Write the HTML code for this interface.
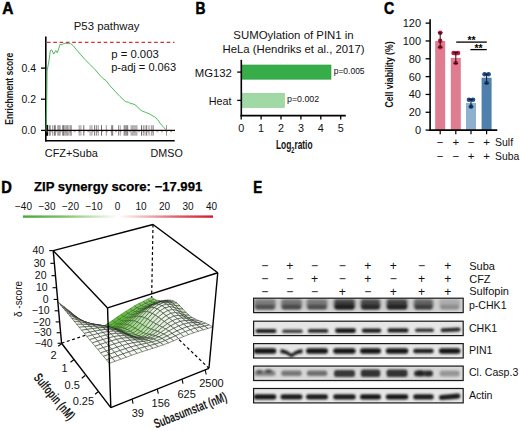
<!DOCTYPE html>
<html><head><meta charset="utf-8"><style>
html,body{margin:0;padding:0;background:#fff;}
svg{display:block;font-family:"Liberation Sans", sans-serif;}
</style></head><body>
<svg width="520" height="431" viewBox="0 0 520 431" font-family='"Liberation Sans", sans-serif'>
<rect width="520" height="431" fill="#fff"/>
<text x="2.3" y="13.5" font-size="15.8" font-weight="bold" text-anchor="start" fill="#000" textLength="11.2" lengthAdjust="spacingAndGlyphs" stroke="#000" stroke-width="0.5">A</text>
<text x="73.8" y="30.2" font-size="11.2" text-anchor="start" fill="#111" textLength="65.6" lengthAdjust="spacingAndGlyphs">P53 pathway</text>
<line x1="45.80" y1="36.50" x2="45.80" y2="141.40" stroke="#000" stroke-width="1.6"/>
<line x1="45.00" y1="140.70" x2="174.70" y2="140.70" stroke="#000" stroke-width="1.6"/>
<line x1="41.00" y1="68.10" x2="45.80" y2="68.10" stroke="#000" stroke-width="1.3"/>
<text x="36.0" y="71.69999999999999" font-size="10.6" text-anchor="end" fill="#111" textLength="14.5" lengthAdjust="spacingAndGlyphs">0.4</text>
<line x1="41.00" y1="99.20" x2="45.80" y2="99.20" stroke="#000" stroke-width="1.3"/>
<text x="36.0" y="102.8" font-size="10.6" text-anchor="end" fill="#111" textLength="14.5" lengthAdjust="spacingAndGlyphs">0.2</text>
<line x1="41.00" y1="130.40" x2="45.80" y2="130.40" stroke="#000" stroke-width="1.3"/>
<text x="36.0" y="134.0" font-size="10.6" text-anchor="end" fill="#111" textLength="14.5" lengthAdjust="spacingAndGlyphs">0.0</text>
<text transform="translate(13.0,88.7) rotate(-90)" font-size="11.6" font-weight="bold" text-anchor="middle" fill="#1a1a1a" textLength="72" lengthAdjust="spacingAndGlyphs">Enrichment score</text>
<line x1="47.00" y1="42.30" x2="174.40" y2="42.30" stroke="#d2323f" stroke-width="1.2" stroke-dasharray="3.6 2.7"/>
<line x1="46.00" y1="125.20" x2="46.00" y2="135.70" stroke="#222" stroke-width="0.9"/>
<line x1="46.80" y1="125.20" x2="46.80" y2="135.70" stroke="#222" stroke-width="0.9"/>
<line x1="47.50" y1="125.20" x2="47.50" y2="135.70" stroke="#222" stroke-width="0.9"/>
<line x1="49.20" y1="125.20" x2="49.20" y2="135.70" stroke="#5a5a5a" stroke-width="0.9"/>
<line x1="50.30" y1="125.20" x2="50.30" y2="135.70" stroke="#8a8a8a" stroke-width="0.9"/>
<line x1="52.70" y1="125.20" x2="52.70" y2="135.70" stroke="#8a8a8a" stroke-width="0.9"/>
<line x1="54.40" y1="125.20" x2="54.40" y2="135.70" stroke="#5a5a5a" stroke-width="0.9"/>
<line x1="55.50" y1="125.20" x2="55.50" y2="135.70" stroke="#8a8a8a" stroke-width="0.9"/>
<line x1="57.80" y1="125.20" x2="57.80" y2="135.70" stroke="#8a8a8a" stroke-width="0.9"/>
<line x1="59.00" y1="125.20" x2="59.00" y2="135.70" stroke="#5a5a5a" stroke-width="0.9"/>
<line x1="60.10" y1="125.20" x2="60.10" y2="135.70" stroke="#8a8a8a" stroke-width="0.9"/>
<line x1="62.50" y1="125.20" x2="62.50" y2="135.70" stroke="#8a8a8a" stroke-width="0.9"/>
<line x1="63.60" y1="125.20" x2="63.60" y2="135.70" stroke="#5a5a5a" stroke-width="0.9"/>
<line x1="64.80" y1="125.20" x2="64.80" y2="135.70" stroke="#8a8a8a" stroke-width="0.9"/>
<line x1="65.90" y1="125.20" x2="65.90" y2="135.70" stroke="#8a8a8a" stroke-width="0.9"/>
<line x1="67.10" y1="125.20" x2="67.10" y2="135.70" stroke="#5a5a5a" stroke-width="0.9"/>
<line x1="68.20" y1="125.20" x2="68.20" y2="135.70" stroke="#8a8a8a" stroke-width="0.9"/>
<line x1="70.00" y1="125.20" x2="70.00" y2="135.70" stroke="#8a8a8a" stroke-width="0.9"/>
<line x1="71.10" y1="125.20" x2="71.10" y2="135.70" stroke="#5a5a5a" stroke-width="0.9"/>
<line x1="79.20" y1="125.20" x2="79.20" y2="135.70" stroke="#8a8a8a" stroke-width="0.9"/>
<line x1="80.90" y1="125.20" x2="80.90" y2="135.70" stroke="#8a8a8a" stroke-width="0.9"/>
<line x1="83.80" y1="125.20" x2="83.80" y2="135.70" stroke="#5a5a5a" stroke-width="0.9"/>
<line x1="90.10" y1="125.20" x2="90.10" y2="135.70" stroke="#8a8a8a" stroke-width="0.9"/>
<line x1="91.90" y1="125.20" x2="91.90" y2="135.70" stroke="#8a8a8a" stroke-width="0.9"/>
<line x1="94.70" y1="125.20" x2="94.70" y2="135.70" stroke="#5a5a5a" stroke-width="0.9"/>
<line x1="96.50" y1="125.20" x2="96.50" y2="135.70" stroke="#8a8a8a" stroke-width="0.9"/>
<line x1="98.20" y1="125.20" x2="98.20" y2="135.70" stroke="#8a8a8a" stroke-width="0.9"/>
<line x1="101.50" y1="125.20" x2="101.50" y2="135.70" stroke="#5a5a5a" stroke-width="0.9"/>
<line x1="106.30" y1="125.20" x2="106.30" y2="135.70" stroke="#8a8a8a" stroke-width="0.9"/>
<line x1="111.50" y1="125.20" x2="111.50" y2="135.70" stroke="#8a8a8a" stroke-width="0.9"/>
<line x1="112.70" y1="125.20" x2="112.70" y2="135.70" stroke="#5a5a5a" stroke-width="0.9"/>
<line x1="118.50" y1="125.20" x2="118.50" y2="135.70" stroke="#8a8a8a" stroke-width="0.9"/>
<line x1="120.20" y1="125.20" x2="120.20" y2="135.70" stroke="#8a8a8a" stroke-width="0.9"/>
<line x1="124.20" y1="125.20" x2="124.20" y2="135.70" stroke="#5a5a5a" stroke-width="0.9"/>
<line x1="125.40" y1="125.20" x2="125.40" y2="135.70" stroke="#8a8a8a" stroke-width="0.9"/>
<line x1="126.50" y1="125.20" x2="126.50" y2="135.70" stroke="#8a8a8a" stroke-width="0.9"/>
<line x1="127.70" y1="125.20" x2="127.70" y2="135.70" stroke="#5a5a5a" stroke-width="0.9"/>
<line x1="131.10" y1="125.20" x2="131.10" y2="135.70" stroke="#8a8a8a" stroke-width="0.9"/>
<line x1="132.30" y1="125.20" x2="132.30" y2="135.70" stroke="#8a8a8a" stroke-width="0.9"/>
<line x1="134.00" y1="125.20" x2="134.00" y2="135.70" stroke="#5a5a5a" stroke-width="0.9"/>
<line x1="135.80" y1="125.20" x2="135.80" y2="135.70" stroke="#8a8a8a" stroke-width="0.9"/>
<line x1="136.90" y1="125.20" x2="136.90" y2="135.70" stroke="#8a8a8a" stroke-width="0.9"/>
<line x1="141.50" y1="125.20" x2="141.50" y2="135.70" stroke="#5a5a5a" stroke-width="0.9"/>
<line x1="143.30" y1="125.20" x2="143.30" y2="135.70" stroke="#8a8a8a" stroke-width="0.9"/>
<line x1="145.00" y1="125.20" x2="145.00" y2="135.70" stroke="#8a8a8a" stroke-width="0.9"/>
<line x1="146.70" y1="125.20" x2="146.70" y2="135.70" stroke="#5a5a5a" stroke-width="0.9"/>
<line x1="149.00" y1="125.20" x2="149.00" y2="135.70" stroke="#8a8a8a" stroke-width="0.9"/>
<line x1="151.30" y1="125.20" x2="151.30" y2="135.70" stroke="#8a8a8a" stroke-width="0.9"/>
<line x1="153.10" y1="125.20" x2="153.10" y2="135.70" stroke="#5a5a5a" stroke-width="0.9"/>
<line x1="166.50" y1="125.20" x2="166.50" y2="135.70" stroke="#8a8a8a" stroke-width="0.9"/>
<rect x="45.30" y="124.90" width="2.50" height="10.70" fill="#000"/>
<line x1="46.00" y1="130.40" x2="175.00" y2="130.40" stroke="#000" stroke-width="1.1"/>
<line x1="46.00" y1="131.70" x2="175.00" y2="131.70" stroke="#c8485a" stroke-width="1.0" stroke-dasharray="2 2.6" opacity="0.7"/>
<polyline fill="none" stroke="#45b556" stroke-width="0.95" points="46,130.5 46.4,112 46.8,95.9 47.1,70.8 48.0,66 48.9,61 49.6,56 50.3,50.6 51.7,49.9 53.7,54.1 55.8,50.6 57.2,52.7 58.6,49.2 60,44.4 62.1,44.4 63.5,43.8 65.6,43.2 68.4,43.7 70.5,43.6 71.9,44.6 73.2,45.7 76.5,49.8 80.2,54.1 85,59.5 90,64.5 95,69.5 100,75.4 103,78.5 106.2,80.8 110,85.8 115.4,91.5 120,96.5 125.4,101.5 128.5,102.3 131,103.6 134,104.2 136.9,106.2 139.5,109.2 142.3,111.2 145.5,112.3 149.2,113.8 152,115.5 154.6,116.9 157.5,119.5 160,123.1 163,126.5 165.4,129.2 166.5,130.4"/>
<text x="111.2" y="57.6" font-size="11" text-anchor="start" fill="#111" textLength="47.6" lengthAdjust="spacingAndGlyphs">p = 0.003</text>
<text x="111.2" y="70.9" font-size="11" text-anchor="start" fill="#111" textLength="64.9" lengthAdjust="spacingAndGlyphs">p-adj = 0.063</text>
<text x="44.8" y="156.7" font-size="10.9" text-anchor="start" fill="#111" textLength="53.0" lengthAdjust="spacingAndGlyphs">CFZ+Suba</text>
<text x="150.6" y="156.6" font-size="10.8" text-anchor="start" fill="#111" textLength="32.2" lengthAdjust="spacingAndGlyphs">DMSO</text>
<text x="195.5" y="13.6" font-size="15.8" font-weight="bold" text-anchor="start" fill="#000" textLength="10.0" lengthAdjust="spacingAndGlyphs" stroke="#000" stroke-width="0.5">B</text>
<text x="293.5" y="39.4" font-size="11.4" text-anchor="middle" fill="#111" textLength="120.4" lengthAdjust="spacingAndGlyphs">SUMOylation of PIN1 in</text>
<text x="293.5" y="52.8" font-size="11.4" text-anchor="middle" fill="#111" textLength="142" lengthAdjust="spacingAndGlyphs">HeLa (Hendriks et al., 2017)</text>
<rect x="241.30" y="65.00" width="89.70" height="14.20" fill="#37ad4a" stroke="#2c9a3f" stroke-width="0.6"/>
<rect x="241.30" y="93.30" width="43.10" height="14.20" fill="#a0d9a3" stroke="#8ccb90" stroke-width="0.6"/>
<line x1="241.30" y1="59.80" x2="241.30" y2="116.30" stroke="#000" stroke-width="1.6"/>
<line x1="240.50" y1="115.60" x2="345.80" y2="115.60" stroke="#000" stroke-width="1.6"/>
<line x1="237.20" y1="72.10" x2="241.30" y2="72.10" stroke="#000" stroke-width="1.3"/>
<line x1="237.20" y1="100.40" x2="241.30" y2="100.40" stroke="#000" stroke-width="1.3"/>
<line x1="241.20" y1="115.60" x2="241.20" y2="119.60" stroke="#000" stroke-width="1.3"/>
<text x="241.2" y="131.8" font-size="10.8" text-anchor="middle" fill="#111">0</text>
<line x1="261.10" y1="115.60" x2="261.10" y2="119.60" stroke="#000" stroke-width="1.3"/>
<text x="261.09999999999997" y="131.8" font-size="10.8" text-anchor="middle" fill="#111">1</text>
<line x1="281.00" y1="115.60" x2="281.00" y2="119.60" stroke="#000" stroke-width="1.3"/>
<text x="281.0" y="131.8" font-size="10.8" text-anchor="middle" fill="#111">2</text>
<line x1="300.90" y1="115.60" x2="300.90" y2="119.60" stroke="#000" stroke-width="1.3"/>
<text x="300.9" y="131.8" font-size="10.8" text-anchor="middle" fill="#111">3</text>
<line x1="320.80" y1="115.60" x2="320.80" y2="119.60" stroke="#000" stroke-width="1.3"/>
<text x="320.79999999999995" y="131.8" font-size="10.8" text-anchor="middle" fill="#111">4</text>
<line x1="340.70" y1="115.60" x2="340.70" y2="119.60" stroke="#000" stroke-width="1.3"/>
<text x="340.7" y="131.8" font-size="10.8" text-anchor="middle" fill="#111">5</text>
<text x="231.9" y="76.5" font-size="11.2" text-anchor="end" fill="#111" textLength="37.1" lengthAdjust="spacingAndGlyphs">MG132</text>
<text x="231.6" y="104.7" font-size="11.2" text-anchor="end" fill="#111" textLength="22.8" lengthAdjust="spacingAndGlyphs">Heat</text>
<text x="333.7" y="74.4" font-size="8.8" text-anchor="start" fill="#111" textLength="30.9" lengthAdjust="spacingAndGlyphs">p=0.005</text>
<text x="287.0" y="101.8" font-size="8.8" text-anchor="start" fill="#111" textLength="32.2" lengthAdjust="spacingAndGlyphs">p=0.002</text>
<text x="276" y="149.4" font-size="13.5" fill="#111" font-weight="bold" transform="translate(276,0) scale(0.62,1) translate(-276,0)">Log<tspan font-size="9" dy="3.5">2</tspan><tspan dy="-3.5">ratio</tspan></text>
<text x="384.0" y="13.7" font-size="15.8" font-weight="bold" text-anchor="start" fill="#000" textLength="10.2" lengthAdjust="spacingAndGlyphs" stroke="#000" stroke-width="0.5">C</text>
<rect x="435.20" y="40.95" width="10.00" height="89.15" fill="#e07c90"/>
<rect x="450.80" y="57.89" width="10.00" height="72.21" fill="#e07c90"/>
<rect x="466.00" y="102.91" width="10.00" height="27.19" fill="#8fb0cf"/>
<rect x="481.60" y="77.68" width="10.00" height="52.42" fill="#4f80ad"/>
<line x1="430.10" y1="19.20" x2="430.10" y2="130.80" stroke="#000" stroke-width="1.6"/>
<line x1="429.30" y1="130.10" x2="497.30" y2="130.10" stroke="#000" stroke-width="1.6"/>
<line x1="425.60" y1="130.10" x2="430.10" y2="130.10" stroke="#000" stroke-width="1.3"/>
<text x="421.0" y="134.0" font-size="11" text-anchor="end" fill="#111">0</text>
<line x1="425.60" y1="112.27" x2="430.10" y2="112.27" stroke="#000" stroke-width="1.3"/>
<text x="421.0" y="116.17" font-size="11" text-anchor="end" fill="#111">20</text>
<line x1="425.60" y1="94.44" x2="430.10" y2="94.44" stroke="#000" stroke-width="1.3"/>
<text x="421.0" y="98.34" font-size="11" text-anchor="end" fill="#111">40</text>
<line x1="425.60" y1="76.61" x2="430.10" y2="76.61" stroke="#000" stroke-width="1.3"/>
<text x="421.0" y="80.51" font-size="11" text-anchor="end" fill="#111">60</text>
<line x1="425.60" y1="58.78" x2="430.10" y2="58.78" stroke="#000" stroke-width="1.3"/>
<text x="421.0" y="62.68" font-size="11" text-anchor="end" fill="#111">80</text>
<line x1="425.60" y1="40.95" x2="430.10" y2="40.95" stroke="#000" stroke-width="1.3"/>
<text x="421.0" y="44.85" font-size="11" text-anchor="end" fill="#111">100</text>
<line x1="425.60" y1="23.12" x2="430.10" y2="23.12" stroke="#000" stroke-width="1.3"/>
<text x="421.0" y="27.020000000000003" font-size="11" text-anchor="end" fill="#111">120</text>
<line x1="440.20" y1="130.10" x2="440.20" y2="134.20" stroke="#000" stroke-width="1.2"/>
<line x1="455.80" y1="130.10" x2="455.80" y2="134.20" stroke="#000" stroke-width="1.2"/>
<line x1="471.00" y1="130.10" x2="471.00" y2="134.20" stroke="#000" stroke-width="1.2"/>
<line x1="486.60" y1="130.10" x2="486.60" y2="134.20" stroke="#000" stroke-width="1.2"/>
<circle cx="440.20" cy="32.80" r="2.3" fill="#c0183e"/>
<circle cx="440.20" cy="40.90" r="2.3" fill="#c0183e"/>
<circle cx="440.20" cy="47.20" r="2.3" fill="#c0183e"/>
<line x1="440.20" y1="32.80" x2="440.20" y2="47.20" stroke="#2a0c14" stroke-width="1.0"/>
<line x1="437.90" y1="32.80" x2="442.50" y2="32.80" stroke="#2a0c14" stroke-width="1.0"/>
<line x1="437.90" y1="47.20" x2="442.50" y2="47.20" stroke="#2a0c14" stroke-width="1.0"/>
<circle cx="453.60" cy="53.00" r="2.3" fill="#c0183e"/>
<circle cx="455.80" cy="53.30" r="2.3" fill="#c0183e"/>
<circle cx="458.00" cy="53.00" r="2.3" fill="#c0183e"/>
<circle cx="455.80" cy="63.00" r="2.3" fill="#c0183e"/>
<line x1="455.80" y1="52.60" x2="455.80" y2="63.40" stroke="#2a0c14" stroke-width="1.0"/>
<line x1="453.50" y1="52.60" x2="458.10" y2="52.60" stroke="#2a0c14" stroke-width="1.0"/>
<line x1="453.50" y1="63.40" x2="458.10" y2="63.40" stroke="#2a0c14" stroke-width="1.0"/>
<circle cx="469.00" cy="99.70" r="2.3" fill="#1f4f86"/>
<circle cx="473.00" cy="99.70" r="2.3" fill="#1f4f86"/>
<circle cx="471.00" cy="106.60" r="2.3" fill="#1f4f86"/>
<line x1="471.00" y1="99.30" x2="471.00" y2="107.00" stroke="#0c1a2e" stroke-width="1.0"/>
<line x1="468.70" y1="99.30" x2="473.30" y2="99.30" stroke="#0c1a2e" stroke-width="1.0"/>
<line x1="468.70" y1="107.00" x2="473.30" y2="107.00" stroke="#0c1a2e" stroke-width="1.0"/>
<circle cx="484.60" cy="74.30" r="2.3" fill="#1f4f86"/>
<circle cx="488.60" cy="74.30" r="2.3" fill="#1f4f86"/>
<circle cx="486.60" cy="83.00" r="2.3" fill="#1f4f86"/>
<line x1="486.60" y1="74.00" x2="486.60" y2="83.30" stroke="#0c1a2e" stroke-width="1.0"/>
<line x1="484.30" y1="74.00" x2="488.90" y2="74.00" stroke="#0c1a2e" stroke-width="1.0"/>
<line x1="484.30" y1="83.30" x2="488.90" y2="83.30" stroke="#0c1a2e" stroke-width="1.0"/>
<line x1="456.20" y1="42.10" x2="486.80" y2="42.10" stroke="#000" stroke-width="1.3"/>
<line x1="470.40" y1="49.60" x2="486.80" y2="49.60" stroke="#000" stroke-width="1.3"/>
<text x="471.6" y="43.9" font-size="10.5" font-weight="bold" text-anchor="middle" fill="#000">**</text>
<text x="478.6" y="51.5" font-size="10.5" font-weight="bold" text-anchor="middle" fill="#000">**</text>
<text x="440.2" y="146.3" font-size="11.5" text-anchor="middle" fill="#111">−</text>
<text x="455.8" y="146.3" font-size="11.5" text-anchor="middle" fill="#111">+</text>
<text x="471.0" y="146.3" font-size="11.5" text-anchor="middle" fill="#111">−</text>
<text x="486.6" y="146.3" font-size="11.5" text-anchor="middle" fill="#111">+</text>
<text x="440.2" y="159.6" font-size="11.5" text-anchor="middle" fill="#111">−</text>
<text x="455.8" y="159.6" font-size="11.5" text-anchor="middle" fill="#111">−</text>
<text x="471.0" y="159.6" font-size="11.5" text-anchor="middle" fill="#111">+</text>
<text x="486.6" y="159.6" font-size="11.5" text-anchor="middle" fill="#111">+</text>
<text x="495.0" y="145.6" font-size="11" text-anchor="start" fill="#111" textLength="18.1" lengthAdjust="spacingAndGlyphs">Sulf</text>
<text x="495.0" y="159.5" font-size="11" text-anchor="start" fill="#111" textLength="24.2" lengthAdjust="spacingAndGlyphs">Suba</text>
<text transform="translate(393.0,74.5) rotate(-90)" font-size="11.6" font-weight="bold" text-anchor="middle" fill="#111" textLength="66" lengthAdjust="spacingAndGlyphs">Cell viability (%)</text>
<text x="1.2" y="192.6" font-size="15.8" font-weight="bold" text-anchor="start" fill="#000" textLength="10.6" lengthAdjust="spacingAndGlyphs" stroke="#000" stroke-width="0.5">D</text>
<text x="34.0" y="190.7" font-size="12.3" font-weight="bold" text-anchor="start" fill="#000" textLength="168.2" lengthAdjust="spacingAndGlyphs" stroke="#000" stroke-width="0.25">ZIP synergy score: −17.991</text>
<text x="23.5" y="210.2" font-size="10" text-anchor="middle" fill="#111">−40</text>
<text x="47.0" y="210.2" font-size="10" text-anchor="middle" fill="#111">−30</text>
<text x="70.5" y="210.2" font-size="10" text-anchor="middle" fill="#111">−20</text>
<text x="94.0" y="210.2" font-size="10" text-anchor="middle" fill="#111">−10</text>
<text x="117.5" y="210.2" font-size="10" text-anchor="middle" fill="#111">0</text>
<text x="141.0" y="210.2" font-size="10" text-anchor="middle" fill="#111">10</text>
<text x="164.5" y="210.2" font-size="10" text-anchor="middle" fill="#111">20</text>
<text x="188.0" y="210.2" font-size="10" text-anchor="middle" fill="#111">30</text>
<text x="211.5" y="210.2" font-size="10" text-anchor="middle" fill="#111">40</text>
<defs><linearGradient id="ck" x1="0" x2="1" y1="0" y2="0"><stop offset="0" stop-color="#4aa83a"/><stop offset="0.2" stop-color="#7cc064"/><stop offset="0.5" stop-color="#ffffff"/><stop offset="0.8" stop-color="#e06670"/><stop offset="1" stop-color="#d41a2a"/></linearGradient></defs>
<rect x="23.00" y="215.40" width="190.00" height="2.40" fill="url(#ck)"/>
<text x="253.3" y="192.6" font-size="15.8" font-weight="bold" text-anchor="start" fill="#000" textLength="9.0" lengthAdjust="spacingAndGlyphs" stroke="#000" stroke-width="0.5">E</text>
<text x="264.8" y="270.20000000000005" font-size="12.2" text-anchor="middle" fill="#111">−</text>
<text x="289.8" y="270.20000000000005" font-size="12.2" text-anchor="middle" fill="#111">+</text>
<text x="314.6" y="270.20000000000005" font-size="12.2" text-anchor="middle" fill="#111">−</text>
<text x="342.4" y="270.20000000000005" font-size="12.2" text-anchor="middle" fill="#111">−</text>
<text x="367.8" y="270.20000000000005" font-size="12.2" text-anchor="middle" fill="#111">+</text>
<text x="393.2" y="270.20000000000005" font-size="12.2" text-anchor="middle" fill="#111">+</text>
<text x="421.5" y="270.20000000000005" font-size="12.2" text-anchor="middle" fill="#111">−</text>
<text x="447.7" y="270.20000000000005" font-size="12.2" text-anchor="middle" fill="#111">+</text>
<text x="469.2" y="269.7" font-size="11" text-anchor="start" fill="#111">Suba</text>
<text x="264.8" y="282.90000000000003" font-size="12.2" text-anchor="middle" fill="#111">−</text>
<text x="289.8" y="282.90000000000003" font-size="12.2" text-anchor="middle" fill="#111">−</text>
<text x="314.6" y="282.90000000000003" font-size="12.2" text-anchor="middle" fill="#111">+</text>
<text x="342.4" y="282.90000000000003" font-size="12.2" text-anchor="middle" fill="#111">−</text>
<text x="367.8" y="282.90000000000003" font-size="12.2" text-anchor="middle" fill="#111">+</text>
<text x="393.2" y="282.90000000000003" font-size="12.2" text-anchor="middle" fill="#111">−</text>
<text x="421.5" y="282.90000000000003" font-size="12.2" text-anchor="middle" fill="#111">+</text>
<text x="447.7" y="282.90000000000003" font-size="12.2" text-anchor="middle" fill="#111">+</text>
<text x="469.2" y="282.7" font-size="11" text-anchor="start" fill="#111">CFZ</text>
<text x="264.8" y="295.70000000000005" font-size="12.2" text-anchor="middle" fill="#111">−</text>
<text x="289.8" y="295.70000000000005" font-size="12.2" text-anchor="middle" fill="#111">−</text>
<text x="314.6" y="295.70000000000005" font-size="12.2" text-anchor="middle" fill="#111">−</text>
<text x="342.4" y="295.70000000000005" font-size="12.2" text-anchor="middle" fill="#111">+</text>
<text x="367.8" y="295.70000000000005" font-size="12.2" text-anchor="middle" fill="#111">−</text>
<text x="393.2" y="295.70000000000005" font-size="12.2" text-anchor="middle" fill="#111">+</text>
<text x="421.5" y="295.70000000000005" font-size="12.2" text-anchor="middle" fill="#111">+</text>
<text x="447.7" y="295.70000000000005" font-size="12.2" text-anchor="middle" fill="#111">+</text>
<text x="469.2" y="294.9" font-size="11" text-anchor="start" fill="#111">Sulfopin</text>
<rect x="253.60" y="298.20" width="209.60" height="14.40" fill="#e6e6e6"/>
<rect x="253.60" y="321.20" width="209.60" height="14.40" fill="#e6e6e6"/>
<rect x="253.60" y="343.60" width="209.60" height="14.40" fill="#e6e6e6"/>
<rect x="253.60" y="366.10" width="209.60" height="14.40" fill="#e6e6e6"/>
<rect x="253.60" y="388.50" width="209.60" height="14.40" fill="#e6e6e6"/>
<text x="468.9" y="309.2" font-size="10.6" text-anchor="start" fill="#111">p-CHK1</text>
<text x="468.9" y="332.4" font-size="10.6" text-anchor="start" fill="#111">CHK1</text>
<text x="468.9" y="353.9" font-size="10.6" text-anchor="start" fill="#111">PIN1</text>
<text x="468.9" y="376.2" font-size="10.6" text-anchor="start" fill="#111">Cl. Casp.3</text>
<text x="468.9" y="399.29999999999995" font-size="10.6" text-anchor="start" fill="#111">Actin</text>
<line x1="153.01" y1="224.50" x2="151.36" y2="313.13" stroke="#000" stroke-width="1.2" stroke-dasharray="3 2.5"/>
<line x1="61.57" y1="343.26" x2="151.36" y2="313.13" stroke="#000" stroke-width="1.2" stroke-dasharray="3 2.5"/>
<line x1="151.36" y1="313.13" x2="208.94" y2="368.29" stroke="#000" stroke-width="1.2" stroke-dasharray="3 2.5"/>
<g stroke="#1c1c1c" stroke-width="0.48" stroke-linejoin="round"><polygon points="150.0,301.3 154.3,299.1 151.7,297.2 147.4,299.3" fill="#86ca68" stroke="#295319"/><polygon points="145.6,303.4 150.0,301.3 147.4,299.3 143.1,301.5" fill="#83c863" stroke="#295419"/><polygon points="141.3,305.6 145.6,303.4 143.1,301.5 138.7,303.6" fill="#7fc75f" stroke="#295619"/><polygon points="152.6,302.4 156.9,300.3 154.3,299.1 150.0,301.3" fill="#8bcc6d" stroke="#285119"/><polygon points="136.9,307.9 141.3,305.6 138.7,303.6 134.4,305.9" fill="#7cc55a" stroke="#2a5819"/><polygon points="148.3,304.5 152.6,302.4 150.0,301.3 145.6,303.4" fill="#87ca69" stroke="#285219"/><polygon points="132.5,310.7 136.9,307.9 134.4,305.9 130.0,308.7" fill="#76c354" stroke="#2b5a19"/><polygon points="128.1,313.5 132.5,310.7 130.0,308.7 125.6,311.5" fill="#70c04c" stroke="#2b5d19"/><polygon points="143.9,306.6 148.3,304.5 145.6,303.4 141.3,305.6" fill="#84c965" stroke="#295419"/><polygon points="123.7,316.4 128.1,313.5 125.6,311.5 121.2,314.3" fill="#6abd43" stroke="#2c6019"/><polygon points="155.3,302.7 159.7,300.7 156.9,300.3 152.6,302.4" fill="#93cf77" stroke="#274d19"/><polygon points="139.5,308.9 143.9,306.6 141.3,305.6 136.9,307.9" fill="#80c760" stroke="#295619"/><polygon points="119.2,319.5 123.7,316.4 121.2,314.3 116.8,317.3" fill="#63ba3b" stroke="#2d6419"/><polygon points="135.1,311.6 139.5,308.9 136.9,307.9 132.5,310.7" fill="#7bc55a" stroke="#2a5819"/><polygon points="114.8,322.6 119.2,319.5 116.8,317.3 112.4,320.4" fill="#62ba3a" stroke="#2d6419"/><polygon points="150.9,304.7 155.3,302.7 152.6,302.4 148.3,304.5" fill="#90ce73" stroke="#274e19"/><polygon points="110.3,325.6 114.8,322.6 112.4,320.4 107.9,323.4" fill="#62ba3a" stroke="#2d6419"/><polygon points="130.6,314.5 135.1,311.6 132.5,310.7 128.1,313.5" fill="#75c252" stroke="#2b5b19"/><polygon points="146.5,306.7 150.9,304.7 148.3,304.5 143.9,306.6" fill="#8dcd70" stroke="#285019"/><polygon points="126.2,317.5 130.6,314.5 128.1,313.5 123.7,316.4" fill="#6ebf49" stroke="#2c5e19"/><polygon points="105.8,328.2 110.3,325.6 107.9,323.4 103.5,326.0" fill="#62ba3a" stroke="#2d6419"/><polygon points="121.7,320.6 126.2,317.5 123.7,316.4 119.2,319.5" fill="#67bc40" stroke="#2c6219"/><polygon points="142.1,309.0 146.5,306.7 143.9,306.6 139.5,308.9" fill="#89cb6b" stroke="#285119"/><polygon points="158.1,302.4 162.4,300.6 159.7,300.7 155.3,302.7" fill="#9dd485" stroke="#264819"/><polygon points="117.2,323.8 121.7,320.6 119.2,319.5 114.8,322.6" fill="#62ba3a" stroke="#2d6419"/><polygon points="101.2,328.4 105.8,328.2 103.5,326.0 98.9,326.3" fill="#62ba3a" stroke="#2d6419"/><polygon points="137.6,311.7 142.1,309.0 139.5,308.9 135.1,311.6" fill="#84c965" stroke="#295419"/><polygon points="112.7,326.8 117.2,323.8 114.8,322.6 110.3,325.6" fill="#62ba3a" stroke="#2d6419"/><polygon points="153.7,304.2 158.1,302.4 155.3,302.7 150.9,304.7" fill="#9bd382" stroke="#264919"/><polygon points="133.2,314.7 137.6,311.7 135.1,311.6 130.6,314.5" fill="#7ec65d" stroke="#2a5719"/><polygon points="108.2,329.3 112.7,326.8 110.3,325.6 105.8,328.2" fill="#62ba3a" stroke="#2d6419"/><polygon points="128.7,317.7 133.2,314.7 130.6,314.5 126.2,317.5" fill="#77c355" stroke="#2a5a19"/><polygon points="149.2,306.2 153.7,304.2 150.9,304.7 146.5,306.7" fill="#99d27f" stroke="#264a19"/><polygon points="96.5,327.9 101.2,328.4 98.9,326.3 94.2,325.8" fill="#62ba3a" stroke="#2d6419"/><polygon points="124.2,321.0 128.7,317.7 126.2,317.5 121.7,320.6" fill="#70c04b" stroke="#2b5d19"/><polygon points="103.5,329.5 108.2,329.3 105.8,328.2 101.2,328.4" fill="#62ba3a" stroke="#2d6419"/><polygon points="144.8,308.4 149.2,306.2 146.5,306.7 142.1,309.0" fill="#96d17b" stroke="#274b19"/><polygon points="160.9,301.9 165.3,300.3 162.4,300.6 158.1,302.4" fill="#aada95" stroke="#244219"/><polygon points="119.6,324.2 124.2,321.0 121.7,320.6 117.2,323.8" fill="#68bd41" stroke="#2c6119"/><polygon points="115.1,327.2 119.6,324.2 117.2,323.8 112.7,326.8" fill="#62ba3a" stroke="#2d6419"/><polygon points="140.3,311.2 144.8,308.4 142.1,309.0 137.6,311.7" fill="#91cf75" stroke="#274e19"/><polygon points="156.5,303.4 160.9,301.9 158.1,302.4 153.7,304.2" fill="#a9d993" stroke="#244219"/><polygon points="110.5,329.6 115.1,327.2 112.7,326.8 108.2,329.3" fill="#62ba3a" stroke="#2d6419"/><polygon points="135.7,314.2 140.3,311.2 137.6,311.7 133.2,314.7" fill="#8bcc6d" stroke="#285119"/><polygon points="91.7,326.4 96.5,327.9 94.2,325.8 89.4,324.2" fill="#62ba3a" stroke="#2d6419"/><polygon points="98.8,329.0 103.5,329.5 101.2,328.4 96.5,327.9" fill="#62ba3a" stroke="#2d6419"/><polygon points="131.2,317.4 135.7,314.2 133.2,314.7 128.7,317.7" fill="#84c964" stroke="#295419"/><polygon points="152.0,305.1 156.5,303.4 153.7,304.2 149.2,306.2" fill="#a8d992" stroke="#254319"/><polygon points="126.7,320.9 131.2,317.4 128.7,317.7 124.2,321.0" fill="#7cc55a" stroke="#2a5819"/><polygon points="105.8,329.7 110.5,329.6 108.2,329.3 103.5,329.5" fill="#62ba3a" stroke="#2d6419"/><polygon points="122.1,324.2 126.7,320.9 124.2,321.0 119.6,324.2" fill="#73c250" stroke="#2b5c19"/><polygon points="163.8,301.3 168.2,300.1 165.3,300.3 160.9,301.9" fill="#b7e0a5" stroke="#233c1a"/><polygon points="147.5,307.2 152.0,305.1 149.2,306.2 144.8,308.4" fill="#a5d88f" stroke="#254419"/><polygon points="117.5,327.2 122.1,324.2 119.6,324.2 115.1,327.2" fill="#6cbe46" stroke="#2c5f19"/><polygon points="93.9,327.5 98.8,329.0 96.5,327.9 91.7,326.4" fill="#67bc40" stroke="#2c6219"/><polygon points="86.7,324.0 91.7,326.4 89.4,324.2 84.4,321.8" fill="#72c14e" stroke="#2b5c19"/><polygon points="142.9,310.1 147.5,307.2 144.8,308.4 140.3,311.2" fill="#a1d689" stroke="#254619"/><polygon points="112.9,329.4 117.5,327.2 115.1,327.2 110.5,329.6" fill="#67bc40" stroke="#2c6219"/><polygon points="159.3,302.3 163.8,301.3 160.9,301.9 156.5,303.4" fill="#b8e0a6" stroke="#233b1a"/><polygon points="101.1,329.2 105.8,329.7 103.5,329.5 98.8,329.0" fill="#64bb3d" stroke="#2d6319"/><polygon points="138.4,313.4 142.9,310.1 140.3,311.2 135.7,314.2" fill="#9ad380" stroke="#264a19"/><polygon points="133.8,316.9 138.4,313.4 135.7,314.2 131.2,317.4" fill="#92cf76" stroke="#274d19"/><polygon points="154.8,303.8 159.3,302.3 156.5,303.4 152.0,305.1" fill="#b8e0a6" stroke="#233b1a"/><polygon points="129.2,320.7 133.8,316.9 131.2,317.4 126.7,320.9" fill="#89cb6b" stroke="#285219"/><polygon points="108.2,329.5 112.9,329.4 110.5,329.6 105.8,329.7" fill="#69bd42" stroke="#2c6119"/><polygon points="124.6,324.3 129.2,320.7 126.7,320.9 122.1,324.2" fill="#80c75f" stroke="#295619"/><polygon points="166.7,301.0 171.1,300.3 168.2,300.1 163.8,301.3" fill="#c4e5b5" stroke="#21361a"/><polygon points="89.0,325.3 93.9,327.5 91.7,326.4 86.7,324.0" fill="#77c354" stroke="#2b5a19"/><polygon points="96.2,327.8 101.1,329.2 98.8,329.0 93.9,327.5" fill="#70c04c" stroke="#2b5d19"/><polygon points="120.0,327.2 124.6,324.3 122.1,324.2 117.5,327.2" fill="#78c456" stroke="#2a5a19"/><polygon points="150.3,305.9 154.8,303.8 152.0,305.1 147.5,307.2" fill="#b7dfa4" stroke="#233c1a"/><polygon points="81.7,321.1 86.7,324.0 84.4,321.8 79.4,318.8" fill="#85ca66" stroke="#295319"/><polygon points="145.7,308.9 150.3,305.9 147.5,307.2 142.9,310.1" fill="#b2dd9e" stroke="#233e1a"/><polygon points="115.3,329.2 120.0,327.2 117.5,327.2 112.9,329.4" fill="#74c250" stroke="#2b5c19"/><polygon points="103.4,328.9 108.2,329.5 105.8,329.7 101.1,329.2" fill="#71c14d" stroke="#2b5d19"/><polygon points="162.2,301.6 166.7,301.0 163.8,301.3 159.3,302.3" fill="#c6e6b8" stroke="#21351a"/><polygon points="141.1,312.4 145.7,308.9 142.9,310.1 138.4,313.4" fill="#aada95" stroke="#244219"/><polygon points="136.4,316.4 141.1,312.4 138.4,313.4 133.8,316.9" fill="#a1d689" stroke="#254619"/><polygon points="131.8,320.7 136.4,316.4 133.8,316.9 129.2,320.7" fill="#97d17c" stroke="#274b19"/><polygon points="110.6,329.1 115.3,329.2 112.9,329.4 108.2,329.5" fill="#76c354" stroke="#2b5a19"/><polygon points="157.7,302.6 162.2,301.6 159.3,302.3 154.8,303.8" fill="#c8e7ba"/><polygon points="169.6,301.6 174.1,301.3 171.1,300.3 166.7,301.0" fill="#cde9c1"/><polygon points="83.9,322.5 89.0,325.3 86.7,324.0 81.7,321.1" fill="#89cb6c" stroke="#285119"/><polygon points="91.2,325.8 96.2,327.8 93.9,327.5 89.0,325.3" fill="#7fc75f" stroke="#295619"/><polygon points="127.2,324.5 131.8,320.7 129.2,320.7 124.6,324.3" fill="#8ccc6f" stroke="#285019"/><polygon points="122.5,327.5 127.2,324.5 124.6,324.3 120.0,327.2" fill="#84c965" stroke="#295419"/><polygon points="98.5,327.5 103.4,328.9 101.1,329.2 96.2,327.8" fill="#7dc65b" stroke="#2a5719"/><polygon points="76.4,317.2 81.7,321.1 79.4,318.8 74.2,314.9" fill="#9cd383" stroke="#264919"/><polygon points="153.1,304.7 157.7,302.6 154.8,303.8 150.3,305.9" fill="#c8e7ba" stroke="#21341a"/><polygon points="117.8,329.2 122.5,327.5 120.0,327.2 115.3,329.2" fill="#80c760" stroke="#295619"/><polygon points="165.2,301.5 169.6,301.6 166.7,301.0 162.2,301.6" fill="#d2ebc7"/><polygon points="105.7,328.3 110.6,329.1 108.2,329.5 103.4,328.9" fill="#7fc75f" stroke="#295619"/><polygon points="148.5,307.8 153.1,304.7 150.3,305.9 145.7,308.9" fill="#c3e5b4" stroke="#21361a"/><polygon points="143.8,311.8 148.5,307.8 145.7,308.9 141.1,312.4" fill="#bae1a9" stroke="#223a1a"/><polygon points="172.6,303.2 177.1,303.1 174.1,301.3 169.6,301.6" fill="#d3ecc8"/><polygon points="139.2,316.3 143.8,311.8 141.1,312.4 136.4,316.4" fill="#afdc9b" stroke="#243f19"/><polygon points="86.1,323.4 91.2,325.8 89.0,325.3 83.9,322.5" fill="#91cf75" stroke="#274e19"/><polygon points="134.5,321.0 139.2,316.3 136.4,316.4 131.8,320.7" fill="#a3d78b" stroke="#254519"/><polygon points="113.0,328.9 117.8,329.2 115.3,329.2 110.6,329.1" fill="#84c965" stroke="#295419"/><polygon points="78.7,319.0 83.9,322.5 81.7,321.1 76.4,317.2" fill="#9fd587" stroke="#264719"/><polygon points="129.8,325.3 134.5,321.0 131.8,320.7 127.2,324.5" fill="#97d17c" stroke="#274b19"/><polygon points="93.5,325.8 98.5,327.5 96.2,327.8 91.2,325.8" fill="#8bcc6e" stroke="#285119"/><polygon points="160.6,302.1 165.2,301.5 162.2,301.6 157.7,302.6" fill="#d6edcc"/><polygon points="125.1,328.4 129.8,325.3 127.2,324.5 122.5,327.5" fill="#8ecd71" stroke="#284f19"/><polygon points="100.8,327.0 105.7,328.3 103.4,328.9 98.5,327.5" fill="#8bcc6e" stroke="#285119"/><polygon points="71.1,312.9 76.4,317.2 74.2,314.9 68.8,310.4" fill="#b5dfa3" stroke="#233d1a"/><polygon points="168.1,302.5 172.6,303.2 169.6,301.6 165.2,301.5" fill="#daefd1"/><polygon points="156.0,304.1 160.6,302.1 157.7,302.6 153.1,304.7" fill="#d7edcd"/><polygon points="120.4,329.8 125.1,328.4 122.5,327.5 117.8,329.2" fill="#8bcc6d" stroke="#285119"/><polygon points="175.6,305.7 180.0,305.9 177.1,303.1 172.6,303.2" fill="#d5edcb"/><polygon points="108.1,327.9 113.0,328.9 110.6,329.1 105.7,328.3" fill="#8ecd71" stroke="#284f19"/><polygon points="151.3,307.3 156.0,304.1 153.1,304.7 148.5,307.8" fill="#d2ebc7"/><polygon points="80.9,320.2 86.1,323.4 83.9,322.5 78.7,319.0" fill="#a6d88f" stroke="#254419"/><polygon points="146.6,311.6 151.3,307.3 148.5,307.8 143.8,311.8" fill="#c9e7bb"/><polygon points="88.4,323.8 93.5,325.8 91.2,325.8 86.1,323.4" fill="#9cd382" stroke="#264919"/><polygon points="137.2,321.9 141.9,316.6 139.2,316.3 134.5,321.0" fill="#addb99" stroke="#244019"/><polygon points="141.9,316.6 146.6,311.6 143.8,311.8 139.2,316.3" fill="#bce2ab" stroke="#223a1a"/><polygon points="132.5,326.6 137.2,321.9 134.5,321.0 129.8,325.3" fill="#9fd587" stroke="#264719"/><polygon points="115.5,329.1 120.4,329.8 117.8,329.2 113.0,328.9" fill="#90ce73" stroke="#274e19"/><polygon points="163.6,302.7 168.1,302.5 165.2,301.5 160.6,302.1" fill="#e1f2d9"/><polygon points="127.7,329.7 132.5,326.6 129.8,325.3 125.1,328.4" fill="#96d17b" stroke="#274c19"/><polygon points="73.3,315.0 78.7,319.0 76.4,317.2 71.1,312.9" fill="#b8e0a6" stroke="#233c1a"/><polygon points="95.8,325.5 100.8,327.0 98.5,327.5 93.5,325.8" fill="#99d27f" stroke="#264a19"/><polygon points="171.1,304.6 175.6,305.7 172.6,303.2 168.1,302.5" fill="#def0d6"/><polygon points="178.6,308.9 183.0,309.1 180.0,305.9 175.6,305.7" fill="#d4ecc9"/><polygon points="123.0,330.8 127.7,329.7 125.1,328.4 120.4,329.8" fill="#93d078" stroke="#274d19"/><polygon points="103.2,326.6 108.1,327.9 105.7,328.3 100.8,327.0" fill="#9ad380" stroke="#264a19"/><polygon points="65.6,308.7 71.1,312.9 68.8,310.4 63.4,306.1" fill="#cfeac3"/><polygon points="158.9,304.4 163.6,302.7 160.6,302.1 156.0,304.1" fill="#e3f3db"/><polygon points="110.6,327.8 115.5,329.1 113.0,328.9 108.1,327.9" fill="#9bd381" stroke="#264919"/><polygon points="154.2,307.7 158.9,304.4 156.0,304.1 151.3,307.3" fill="#def1d6"/><polygon points="83.2,321.2 88.4,323.8 86.1,323.4 80.9,320.2" fill="#aedb99" stroke="#244019"/><polygon points="135.2,328.2 139.9,323.2 137.2,321.9 132.5,326.6" fill="#a6d88f" stroke="#254419"/><polygon points="139.9,323.2 144.7,317.5 141.9,316.6 137.2,321.9" fill="#b6dfa3" stroke="#233d1a"/><polygon points="181.6,312.2 186.0,312.4 183.0,309.1 178.6,308.9" fill="#d2ebc6"/><polygon points="166.6,304.3 171.1,304.6 168.1,302.5 163.6,302.7" fill="#e7f4e0"/><polygon points="149.5,312.2 154.2,307.7 151.3,307.3 146.6,311.6" fill="#d4ecc9"/><polygon points="75.6,316.7 80.9,320.2 78.7,319.0 73.3,315.0" fill="#bce2ab" stroke="#22391a"/><polygon points="144.7,317.5 149.5,312.2 146.6,311.6 141.9,316.6" fill="#c6e6b8" stroke="#21351a"/><polygon points="90.7,323.9 95.8,325.5 93.5,325.8 88.4,323.8" fill="#a8d991" stroke="#254319"/><polygon points="130.4,331.4 135.2,328.2 132.5,326.6 127.7,329.7" fill="#9cd382" stroke="#264919"/><polygon points="174.1,307.4 178.6,308.9 175.6,305.7 171.1,304.6" fill="#def0d6"/><polygon points="118.1,329.9 123.0,330.8 120.4,329.8 115.5,329.1" fill="#99d280" stroke="#264a19"/><polygon points="67.9,311.1 73.3,315.0 71.1,312.9 65.6,308.7" fill="#d1ebc5"/><polygon points="98.1,325.2 103.2,326.6 100.8,327.0 95.8,325.5" fill="#a7d891" stroke="#254319"/><polygon points="125.6,332.3 130.4,331.4 127.7,329.7 123.0,330.8" fill="#9ad280" stroke="#264a19"/><polygon points="161.9,305.7 166.6,304.3 163.6,302.7 158.9,304.4" fill="#eaf6e5"/><polygon points="105.6,326.4 110.6,327.8 108.1,327.9 103.2,326.6" fill="#a8d991" stroke="#254319"/><polygon points="184.6,315.2 189.1,315.2 186.0,312.4 181.6,312.2" fill="#d0eac4"/><polygon points="60.1,304.4 65.6,308.7 63.4,306.1 57.8,301.7" fill="#e9f5e3"/><polygon points="177.1,310.5 181.6,312.2 178.6,308.9 174.1,307.4" fill="#dcf0d3"/><polygon points="169.6,306.7 174.1,307.4 171.1,304.6 166.6,304.3" fill="#e9f5e3"/><polygon points="137.9,329.9 142.7,324.8 139.9,323.2 135.2,328.2" fill="#acda96" stroke="#244119"/><polygon points="157.2,308.9 161.9,305.7 158.9,304.4 154.2,307.7" fill="#e6f4e0"/><polygon points="142.7,324.8 147.6,318.9 144.7,317.5 139.9,323.2" fill="#bce2ab" stroke="#22391a"/><polygon points="113.1,328.2 118.1,329.9 115.5,329.1 110.6,327.8" fill="#a6d88f" stroke="#254419"/><polygon points="85.5,321.9 90.7,323.9 88.4,323.8 83.2,321.2" fill="#b8e0a6" stroke="#233c1a"/><polygon points="133.1,333.1 137.9,329.9 135.2,328.2 130.4,331.4" fill="#a1d689" stroke="#254619"/><polygon points="77.9,318.3 83.2,321.2 80.9,320.2 75.6,316.7" fill="#c2e4b3" stroke="#21371a"/><polygon points="147.6,318.9 152.4,313.4 149.5,312.2 144.7,317.5" fill="#cee9c1"/><polygon points="152.4,313.4 157.2,308.9 154.2,307.7 149.5,312.2" fill="#dcf0d4"/><polygon points="120.7,331.0 125.6,332.3 123.0,330.8 118.1,329.9" fill="#a1d689" stroke="#254619"/><polygon points="70.2,313.3 75.6,316.7 73.3,315.0 67.9,311.1" fill="#d3ecc8"/><polygon points="93.0,324.1 98.1,325.2 95.8,325.5 90.7,323.9" fill="#b4dea1" stroke="#233d1a"/><polygon points="128.3,333.9 133.1,333.1 130.4,331.4 125.6,332.3" fill="#9fd587" stroke="#264719"/><polygon points="164.9,307.9 169.6,306.7 166.6,304.3 161.9,305.7" fill="#edf7e9"/><polygon points="180.2,313.5 184.6,315.2 181.6,312.2 177.1,310.5" fill="#dbefd1"/><polygon points="187.8,317.6 192.3,317.5 189.1,315.2 184.6,315.2" fill="#d0eac4"/><polygon points="100.5,325.2 105.6,326.4 103.2,326.6 98.1,325.2" fill="#b4dea1" stroke="#233d1a"/><polygon points="62.3,307.1 67.9,311.1 65.6,308.7 60.1,304.4" fill="#e9f5e3"/><polygon points="172.6,309.6 177.1,310.5 174.1,307.4 169.6,306.7" fill="#e8f5e2"/><polygon points="160.1,310.8 164.9,307.9 161.9,305.7 157.2,308.9" fill="#ebf6e6"/><polygon points="140.8,331.5 145.6,326.4 142.7,324.8 137.9,329.9" fill="#b1dd9d" stroke="#233f1a"/><polygon points="108.1,326.6 113.1,328.2 110.6,327.8 105.6,326.4" fill="#b4dea0" stroke="#233e1a"/><polygon points="145.6,326.4 150.4,320.6 147.6,318.9 142.7,324.8" fill="#c2e4b2" stroke="#21371a"/><polygon points="135.9,334.7 140.8,331.5 137.9,329.9 133.1,333.1" fill="#a6d88f" stroke="#254419"/><polygon points="155.3,315.2 160.1,310.8 157.2,308.9 152.4,313.4" fill="#e2f2da"/><polygon points="150.4,320.6 155.3,315.2 152.4,313.4 147.6,318.9" fill="#d3ecc8"/><polygon points="80.2,319.7 85.5,321.9 83.2,321.2 77.9,318.3" fill="#c9e7bc"/><polygon points="115.7,329.1 120.7,331.0 118.1,329.9 113.1,328.2" fill="#afdc9a" stroke="#244019"/><polygon points="72.5,315.5 77.9,318.3 75.6,316.7 70.2,313.3" fill="#d7edcd"/><polygon points="87.8,322.6 93.0,324.1 90.7,323.9 85.5,321.9" fill="#c2e4b3" stroke="#21371a"/><polygon points="123.4,332.4 128.3,333.9 125.6,332.3 120.7,331.0" fill="#a8d991" stroke="#254319"/><polygon points="167.9,310.5 172.6,309.6 169.6,306.7 164.9,307.9" fill="#eef8ea"/><polygon points="183.3,316.2 187.8,317.6 184.6,315.2 180.2,313.5" fill="#daefd1"/><polygon points="175.6,312.6 180.2,313.5 177.1,310.5 172.6,309.6" fill="#e7f4e1"/><polygon points="64.7,309.9 70.2,313.3 67.9,311.1 62.3,307.1" fill="#eaf6e4"/><polygon points="131.1,335.3 135.9,334.7 133.1,333.1 128.3,333.9" fill="#a5d78e" stroke="#254419"/><polygon points="95.4,324.4 100.5,325.2 98.1,325.2 93.0,324.1" fill="#c0e4b1" stroke="#22371a"/><polygon points="191.0,319.6 195.5,319.2 192.3,317.5 187.8,317.6" fill="#d3ecc8"/><polygon points="163.1,313.2 167.9,310.5 164.9,307.9 160.1,310.8" fill="#edf7e8"/><polygon points="103.0,325.6 108.1,326.6 105.6,326.4 100.5,325.2" fill="#c0e4b1" stroke="#22371a"/><polygon points="143.6,332.8 148.5,327.9 145.6,326.4 140.8,331.5" fill="#b7dfa5" stroke="#233c1a"/><polygon points="148.5,327.9 153.4,322.3 150.4,320.6 145.6,326.4" fill="#c7e6b9" stroke="#21341a"/><polygon points="158.3,317.2 163.1,313.2 160.1,310.8 155.3,315.2" fill="#e5f3de"/><polygon points="153.4,322.3 158.3,317.2 155.3,315.2 150.4,320.6" fill="#d8eece"/><polygon points="138.7,335.9 143.6,332.8 140.8,331.5 135.9,334.7" fill="#addb98" stroke="#244119"/><polygon points="110.7,327.3 115.7,329.1 113.1,328.2 108.1,326.6" fill="#bee2ad" stroke="#22391a"/><polygon points="74.8,317.6 80.2,319.7 77.9,318.3 72.5,315.5" fill="#dbefd2"/><polygon points="82.5,321.1 87.8,322.6 85.5,321.9 80.2,319.7" fill="#d1ebc5"/><polygon points="170.9,313.3 175.6,312.6 172.6,309.6 167.9,310.5" fill="#eef7ea"/><polygon points="118.4,330.3 123.4,332.4 120.7,331.0 115.7,329.1" fill="#b6dfa4" stroke="#233c1a"/><polygon points="126.1,333.9 131.1,335.3 128.3,333.9 123.4,332.4" fill="#aedb99" stroke="#244019"/><polygon points="178.7,315.4 183.3,316.2 180.2,313.5 175.6,312.6" fill="#e7f4e0"/><polygon points="186.5,318.5 191.0,319.6 187.8,317.6 183.3,316.2" fill="#dcf0d4"/><polygon points="67.0,312.7 72.5,315.5 70.2,313.3 64.7,309.9" fill="#ebf6e6"/><polygon points="90.2,323.5 95.4,324.4 93.0,324.1 87.8,322.6" fill="#cce9bf"/><polygon points="194.3,321.2 198.9,320.6 195.5,319.2 191.0,319.6" fill="#d8eecf"/><polygon points="133.8,336.5 138.7,335.9 135.9,334.7 131.1,335.3" fill="#acda97" stroke="#244119"/><polygon points="166.1,315.7 170.9,313.3 167.9,310.5 163.1,313.2" fill="#eef7e9"/><polygon points="97.9,325.0 103.0,325.6 100.5,325.2 95.4,324.4" fill="#cbe8be"/><polygon points="161.3,319.3 166.1,315.7 163.1,313.2 158.3,317.2" fill="#e7f5e1"/><polygon points="105.5,326.4 110.7,327.3 108.1,326.6 103.0,325.6" fill="#cbe8bd"/><polygon points="174.0,316.1 178.7,315.4 175.6,312.6 170.9,313.3" fill="#eef7e9"/><polygon points="146.5,333.8 151.4,329.2 148.5,327.9 143.6,332.8" fill="#bee3ae" stroke="#22391a"/><polygon points="151.4,329.2 156.4,324.0 153.4,322.3 148.5,327.9" fill="#cde9c0"/><polygon points="156.4,324.0 161.3,319.3 158.3,317.2 153.4,322.3" fill="#dcefd3"/><polygon points="77.2,319.8 82.5,321.1 80.2,319.7 74.8,317.6" fill="#e0f1d8"/><polygon points="181.9,318.0 186.5,318.5 183.3,316.2 178.7,315.4" fill="#e8f5e2"/><polygon points="141.6,336.7 146.5,333.8 143.6,332.8 138.7,335.9" fill="#b5dea2" stroke="#233d1a"/><polygon points="113.3,328.5 118.4,330.3 115.7,329.1 110.7,327.3" fill="#c6e6b7" stroke="#21351a"/><polygon points="69.4,315.5 74.8,317.6 72.5,315.5 67.0,312.7" fill="#edf7e8"/><polygon points="84.9,322.7 90.2,323.5 87.8,322.6 82.5,321.1" fill="#d8eece"/><polygon points="189.7,320.6 194.3,321.2 191.0,319.6 186.5,318.5" fill="#e0f1d8"/><polygon points="121.1,331.7 126.1,333.9 123.4,332.4 118.4,330.3" fill="#bde2ac" stroke="#22391a"/><polygon points="128.9,335.2 133.8,336.5 131.1,335.3 126.1,333.9" fill="#b5dea2" stroke="#233d1a"/><polygon points="92.7,324.7 97.9,325.0 95.4,324.4 90.2,323.5" fill="#d5edcb"/><polygon points="169.2,318.2 174.0,316.1 170.9,313.3 166.1,315.7" fill="#eef8ea"/><polygon points="197.7,322.7 202.3,321.8 198.9,320.6 194.3,321.2" fill="#dff1d6"/><polygon points="136.7,337.4 141.6,336.7 138.7,335.9 133.8,336.5" fill="#b4dea1" stroke="#233d1a"/><polygon points="100.4,326.1 105.5,326.4 103.0,325.6 97.9,325.0" fill="#d5ecca"/><polygon points="164.3,321.5 169.2,318.2 166.1,315.7 161.3,319.3" fill="#e9f5e4"/><polygon points="177.2,318.8 181.9,318.0 178.7,315.4 174.0,316.1" fill="#eef8ea"/><polygon points="159.4,325.7 164.3,321.5 161.3,319.3 156.4,324.0" fill="#e0f1d8"/><polygon points="185.1,320.5 189.7,320.6 186.5,318.5 181.9,318.0" fill="#e9f6e4"/><polygon points="154.4,330.3 159.4,325.7 156.4,324.0 151.4,329.2" fill="#d3ecc8"/><polygon points="71.8,318.4 77.2,319.8 74.8,317.6 69.4,315.5" fill="#eef8ea"/><polygon points="108.1,327.6 113.3,328.5 110.7,327.3 105.5,326.4" fill="#d3ecc8"/><polygon points="79.6,322.0 84.9,322.7 82.5,321.1 77.2,319.8" fill="#e4f3dd"/><polygon points="149.5,334.4 154.4,330.3 151.4,329.2 146.5,333.8" fill="#c7e6b8" stroke="#21351a"/><polygon points="193.1,322.7 197.7,322.7 194.3,321.2 189.7,320.6" fill="#e5f3de"/><polygon points="116.0,329.9 121.1,331.7 118.4,330.3 113.3,328.5" fill="#cde9c0"/><polygon points="87.4,324.4 92.7,324.7 90.2,323.5 84.9,322.7" fill="#dff1d7"/><polygon points="123.8,333.2 128.9,335.2 126.1,333.9 121.1,331.7" fill="#c4e5b5" stroke="#21361a"/><polygon points="144.6,337.2 149.5,334.4 146.5,333.8 141.6,336.7" fill="#bfe3ae" stroke="#22381a"/><polygon points="172.3,320.8 177.2,318.8 174.0,316.1 169.2,318.2" fill="#eff8eb"/><polygon points="131.7,336.3 136.7,337.4 133.8,336.5 128.9,335.2" fill="#bde2ac" stroke="#22391a"/><polygon points="201.1,324.3 205.7,323.2 202.3,321.8 197.7,322.7" fill="#e5f3de"/><polygon points="95.2,326.2 100.4,326.1 97.9,325.0 92.7,324.7" fill="#ddf0d5"/><polygon points="180.4,321.4 185.1,320.5 181.9,318.0 177.2,318.8" fill="#eff8eb"/><polygon points="167.4,323.7 172.3,320.8 169.2,318.2 164.3,321.5" fill="#ecf6e7"/><polygon points="139.6,338.0 144.6,337.2 141.6,336.7 136.7,337.4" fill="#bee3ae" stroke="#22391a"/><polygon points="102.9,327.5 108.1,327.6 105.5,326.4 100.4,326.1" fill="#dcf0d4"/><polygon points="188.4,323.0 193.1,322.7 189.7,320.6 185.1,320.5" fill="#ecf7e7"/><polygon points="162.5,327.3 167.4,323.7 164.3,321.5 159.4,325.7" fill="#e4f3dd"/><polygon points="74.2,321.3 79.6,322.0 77.2,319.8 71.8,318.4" fill="#eff8ec"/><polygon points="82.1,324.3 87.4,324.4 84.9,322.7 79.6,322.0" fill="#e8f5e2"/><polygon points="157.5,331.4 162.5,327.3 159.4,325.7 154.4,330.3" fill="#daefd0"/><polygon points="110.8,329.2 116.0,329.9 113.3,328.5 108.1,327.6" fill="#daefd0"/><polygon points="196.4,324.9 201.1,324.3 197.7,322.7 193.1,322.7" fill="#e9f5e4"/><polygon points="175.5,323.3 180.4,321.4 177.2,318.8 172.3,320.8" fill="#f1f9ed"/><polygon points="152.5,335.1 157.5,331.4 154.4,330.3 149.5,334.4" fill="#d0eac4"/><polygon points="118.7,331.7 123.8,333.2 121.1,331.7 116.0,329.9" fill="#d3ecc8"/><polygon points="89.9,326.4 95.2,326.2 92.7,324.7 87.4,324.4" fill="#e5f3de"/><polygon points="126.6,334.7 131.7,336.3 128.9,335.2 123.8,333.2" fill="#cbe8bd"/><polygon points="147.5,337.6 152.5,335.1 149.5,334.4 144.6,337.2" fill="#c9e7bb"/><polygon points="134.6,337.4 139.6,338.0 136.7,337.4 131.7,336.3" fill="#c6e6b7" stroke="#21351a"/><polygon points="204.5,326.2 209.2,324.9 205.7,323.2 201.1,324.3" fill="#eaf6e5"/><polygon points="183.6,324.2 188.4,323.0 185.1,320.5 180.4,321.4" fill="#f1f9ed"/><polygon points="97.7,328.0 102.9,327.5 100.4,326.1 95.2,326.2" fill="#e3f3dc"/><polygon points="170.6,325.9 175.5,323.3 172.3,320.8 167.4,323.7" fill="#eef7e9"/><polygon points="76.7,324.3 82.1,324.3 79.6,322.0 74.2,321.3" fill="#f1f9ed"/><polygon points="191.7,325.6 196.4,324.9 193.1,322.7 188.4,323.0" fill="#eff8ea"/><polygon points="165.6,329.1 170.6,325.9 167.4,323.7 162.5,327.3" fill="#e8f5e2"/><polygon points="105.6,329.4 110.8,329.2 108.1,327.6 102.9,327.5" fill="#e3f2db"/><polygon points="142.5,338.6 147.5,337.6 144.6,337.2 139.6,338.0" fill="#c9e7bb"/><polygon points="84.6,326.8 89.9,326.4 87.4,324.4 82.1,324.3" fill="#ebf6e6"/><polygon points="178.7,326.0 183.6,324.2 180.4,321.4 175.5,323.3" fill="#f2f9ee"/><polygon points="160.6,332.6 165.6,329.1 162.5,327.3 157.5,331.4" fill="#e0f1d8"/><polygon points="199.8,327.2 204.5,326.2 201.1,324.3 196.4,324.9" fill="#edf7e8"/><polygon points="113.5,331.1 118.7,331.7 116.0,329.9 110.8,329.2" fill="#dff1d7"/><polygon points="92.4,328.6 97.7,328.0 95.2,326.2 89.9,326.4" fill="#e9f5e4"/><polygon points="121.5,333.6 126.6,334.7 123.8,333.2 118.7,331.7" fill="#d9eecf"/><polygon points="155.6,335.8 160.6,332.6 157.5,331.4 152.5,335.1" fill="#d8eecf"/><polygon points="129.5,336.3 134.6,337.4 131.7,336.3 126.6,334.7" fill="#d2ebc6"/><polygon points="186.9,326.9 191.7,325.6 188.4,323.0 183.6,324.2" fill="#f2f9ef"/><polygon points="173.8,328.3 178.7,326.0 175.5,323.3 170.6,325.9" fill="#f0f8ec"/><polygon points="208.0,328.5 212.8,326.9 209.2,324.9 204.5,326.2" fill="#eef8ea"/><polygon points="100.3,330.1 105.6,329.4 102.9,327.5 97.7,328.0" fill="#e8f5e3"/><polygon points="137.5,338.5 142.5,338.6 139.6,338.0 134.6,337.4" fill="#cfeac3"/><polygon points="150.6,338.2 155.6,335.8 152.5,335.1 147.5,337.6" fill="#d3ecc8"/><polygon points="79.2,327.3 84.6,326.8 82.1,324.3 76.7,324.3" fill="#f2f9ef"/><polygon points="195.0,328.3 199.8,327.2 196.4,324.9 191.7,325.6" fill="#f1f9ed"/><polygon points="168.8,331.1 173.8,328.3 170.6,325.9 165.6,329.1" fill="#ecf7e7"/><polygon points="108.3,331.5 113.5,331.1 110.8,329.2 105.6,329.4" fill="#e7f5e1"/><polygon points="87.1,329.4 92.4,328.6 89.9,326.4 84.6,326.8" fill="#eef8ea"/><polygon points="182.0,328.7 186.9,326.9 183.6,324.2 178.7,326.0" fill="#f3faf0"/><polygon points="203.3,329.8 208.0,328.5 204.5,326.2 199.8,327.2" fill="#f0f8ec"/><polygon points="116.3,333.3 121.5,333.6 118.7,331.7 113.5,331.1" fill="#e4f3dd"/><polygon points="145.6,339.4 150.6,338.2 147.5,337.6 142.5,338.6" fill="#d3ecc8"/><polygon points="163.8,334.1 168.8,331.1 165.6,329.1 160.6,332.6" fill="#e6f4e0"/><polygon points="95.0,331.1 100.3,330.1 97.7,328.0 92.4,328.6" fill="#edf7e8"/><polygon points="124.3,335.6 129.5,336.3 126.6,334.7 121.5,333.6" fill="#def1d6"/><polygon points="190.2,329.8 195.0,328.3 191.7,325.6 186.9,326.9" fill="#f3faf0"/><polygon points="177.0,330.9 182.0,328.7 178.7,326.0 173.8,328.3" fill="#f2f9ee"/><polygon points="158.8,336.9 163.8,334.1 160.6,332.6 155.6,335.8" fill="#e0f2d9"/><polygon points="132.4,338.0 137.5,338.5 134.6,337.4 129.5,336.3" fill="#d9eed0"/><polygon points="103.0,332.5 108.3,331.5 105.6,329.4 100.3,330.1" fill="#ecf7e7"/><polygon points="81.7,330.3 87.1,329.4 84.6,326.8 79.2,327.3" fill="#f3faf0"/><polygon points="198.4,331.2 203.3,329.8 199.8,327.2 195.0,328.3" fill="#f2f9ef"/><polygon points="172.1,333.4 177.0,330.9 173.8,328.3 168.8,331.1" fill="#eff8eb"/><polygon points="140.5,339.8 145.6,339.4 142.5,338.6 137.5,338.5" fill="#d8eece"/><polygon points="153.7,339.1 158.8,336.9 155.6,335.8 150.6,338.2" fill="#ddf0d4"/><polygon points="185.3,331.6 190.2,329.8 186.9,326.9 182.0,328.7" fill="#f4faf1"/><polygon points="89.7,332.2 95.0,331.1 92.4,328.6 87.1,329.4" fill="#f0f9ed"/><polygon points="111.0,334.0 116.3,333.3 113.5,331.1 108.3,331.5" fill="#ebf6e6"/><polygon points="119.1,335.8 124.3,335.6 121.5,333.6 116.3,333.3" fill="#e8f5e2"/><polygon points="97.7,333.7 103.0,332.5 100.3,330.1 95.0,331.1" fill="#eff8ec"/><polygon points="167.0,336.0 172.1,333.4 168.8,331.1 163.8,334.1" fill="#ebf6e6"/><polygon points="193.6,332.8 198.4,331.2 195.0,328.3 190.2,329.8" fill="#f4faf1"/><polygon points="180.3,333.6 185.3,331.6 182.0,328.7 177.0,330.9" fill="#f3faf0"/><polygon points="148.6,340.6 153.7,339.1 150.6,338.2 145.6,339.4" fill="#ddf0d4"/><polygon points="127.2,337.8 132.4,338.0 129.5,336.3 124.3,335.6" fill="#e3f3dc"/><polygon points="84.3,333.4 89.7,332.2 87.1,329.4 81.7,330.3" fill="#f4faf1"/><polygon points="105.7,335.1 111.0,334.0 108.3,331.5 103.0,332.5" fill="#eff8eb"/><polygon points="162.0,338.5 167.0,336.0 163.8,334.1 158.8,336.9" fill="#e7f4e1"/><polygon points="135.3,339.9 140.5,339.8 137.5,338.5 132.4,338.0" fill="#e0f1d8"/><polygon points="188.6,334.6 193.6,332.8 190.2,329.8 185.3,331.6" fill="#f4faf2"/><polygon points="175.3,335.9 180.3,333.6 177.0,330.9 172.1,333.4" fill="#f1f9ee"/><polygon points="92.3,335.1 97.7,333.7 95.0,331.1 89.7,332.2" fill="#f2f9ef"/><polygon points="113.8,336.6 119.1,335.8 116.3,333.3 111.0,334.0" fill="#eef7e9"/><polygon points="143.5,341.4 148.6,340.6 145.6,339.4 140.5,339.8" fill="#e0f2d9"/><polygon points="156.9,340.6 162.0,338.5 158.8,336.9 153.7,339.1" fill="#e5f3de"/><polygon points="121.9,338.3 127.2,337.8 124.3,335.6 119.1,335.8" fill="#ebf6e6"/><polygon points="100.4,336.6 105.7,335.1 103.0,332.5 97.7,333.7" fill="#f1f9ee"/><polygon points="170.3,338.2 175.3,335.9 172.1,333.4 167.0,336.0" fill="#eff8eb"/><polygon points="183.7,336.5 188.6,334.6 185.3,331.6 180.3,333.6" fill="#f4faf1"/><polygon points="86.9,336.5 92.3,335.1 89.7,332.2 84.3,333.4" fill="#f4faf1"/><polygon points="130.1,340.2 135.3,339.9 132.4,338.0 127.2,337.8" fill="#e8f5e2"/><polygon points="108.5,338.0 113.8,336.6 111.0,334.0 105.7,335.1" fill="#f1f9ed"/><polygon points="151.8,342.1 156.9,340.6 153.7,339.1 148.6,340.6" fill="#e5f3de"/><polygon points="165.2,340.5 170.3,338.2 167.0,336.0 162.0,338.5" fill="#ecf7e7"/><polygon points="138.3,342.0 143.5,341.4 140.5,339.8 135.3,339.9" fill="#e6f4e0"/><polygon points="95.0,338.1 100.4,336.6 97.7,333.7 92.3,335.1" fill="#f3faf0"/><polygon points="178.7,338.6 183.7,336.5 180.3,333.6 175.3,335.9" fill="#f3faf0"/><polygon points="116.7,339.4 121.9,338.3 119.1,335.8 113.8,336.6" fill="#f0f8ec"/><polygon points="103.1,339.5 108.5,338.0 105.7,335.1 100.4,336.6" fill="#f3faf0"/><polygon points="160.1,342.5 165.2,340.5 162.0,338.5 156.9,340.6" fill="#ebf6e5"/><polygon points="146.6,343.3 151.8,342.1 148.6,340.6 143.5,341.4" fill="#e7f4e1"/><polygon points="124.9,341.1 130.1,340.2 127.2,337.8 121.9,338.3" fill="#eef7e9"/><polygon points="173.6,340.8 178.7,338.6 175.3,335.9 170.3,338.2" fill="#f1f9ee"/><polygon points="89.6,339.7 95.0,338.1 92.3,335.1 86.9,336.5" fill="#f5faf2"/><polygon points="133.1,342.8 138.3,342.0 135.3,339.9 130.1,340.2" fill="#ecf7e7"/><polygon points="111.3,340.9 116.7,339.4 113.8,336.6 108.5,338.0" fill="#f2f9ef"/><polygon points="154.9,344.2 160.1,342.5 156.9,340.6 151.8,342.1" fill="#ebf6e5"/><polygon points="97.7,341.2 103.1,339.5 100.4,336.6 95.0,338.1" fill="#f4faf1"/><polygon points="168.5,342.9 173.6,340.8 170.3,338.2 165.2,340.5" fill="#f0f8ec"/><polygon points="141.4,344.4 146.6,343.3 143.5,341.4 138.3,342.0" fill="#ebf6e6"/><polygon points="119.5,342.4 124.9,341.1 121.9,338.3 116.7,339.4" fill="#f1f9ee"/><polygon points="105.9,342.6 111.3,340.9 108.5,338.0 103.1,339.5" fill="#f4faf1"/><polygon points="127.8,344.0 133.1,342.8 130.1,340.2 124.9,341.1" fill="#f0f8ec"/><polygon points="163.3,344.8 168.5,342.9 165.2,340.5 160.1,342.5" fill="#eff8eb"/><polygon points="92.3,342.9 97.7,341.2 95.0,338.1 89.6,339.7" fill="#f5fbf2"/><polygon points="149.8,345.6 154.9,344.2 151.8,342.1 146.6,343.3" fill="#ecf7e7"/><polygon points="114.2,344.0 119.5,342.4 116.7,339.4 111.3,340.9" fill="#f3faf0"/><polygon points="136.1,345.6 141.4,344.4 138.3,342.0 133.1,342.8" fill="#eff8eb"/><polygon points="100.5,344.4 105.9,342.6 103.1,339.5 97.7,341.2" fill="#f4faf2"/><polygon points="158.2,346.6 163.3,344.8 160.1,342.5 154.9,344.2" fill="#eff8eb"/><polygon points="122.5,345.5 127.8,344.0 124.9,341.1 119.5,342.4" fill="#f3faef"/><polygon points="144.5,347.0 149.8,345.6 146.6,343.3 141.4,344.4" fill="#eff8ea"/><polygon points="108.8,345.8 114.2,344.0 111.3,340.9 105.9,342.6" fill="#f4faf1"/><polygon points="130.8,347.0 136.1,345.6 133.1,342.8 127.8,344.0" fill="#f2f9ee"/><polygon points="95.0,346.2 100.5,344.4 97.7,341.2 92.3,342.9" fill="#f5fbf2"/><polygon points="152.9,348.3 158.2,346.6 154.9,344.2 149.8,345.6" fill="#f0f8ec"/><polygon points="117.1,347.2 122.5,345.5 119.5,342.4 114.2,344.0" fill="#f4faf1"/><polygon points="139.2,348.5 144.5,347.0 141.4,344.4 136.1,345.6" fill="#f1f9ee"/><polygon points="103.3,347.6 108.8,345.8 105.9,342.6 100.5,344.4" fill="#f5faf2"/><polygon points="125.5,348.7 130.8,347.0 127.8,344.0 122.5,345.5" fill="#f4faf1"/><polygon points="147.7,349.9 152.9,348.3 149.8,345.6 144.5,347.0" fill="#f1f9ee"/><polygon points="111.6,349.1 117.1,347.2 114.2,344.0 108.8,345.8" fill="#f5faf2"/><polygon points="97.8,349.5 103.3,347.6 100.5,344.4 95.0,346.2" fill="#f5fbf3"/><polygon points="133.9,350.2 139.2,348.5 136.1,345.6 130.8,347.0" fill="#f3faf0"/><polygon points="120.0,350.5 125.5,348.7 122.5,345.5 117.1,347.2" fill="#f4faf2"/><polygon points="106.2,351.0 111.6,349.1 108.8,345.8 103.3,347.6" fill="#f5fbf2"/><polygon points="142.3,351.6 147.7,349.9 144.5,347.0 139.2,348.5" fill="#f3faf0"/><polygon points="128.5,352.0 133.9,350.2 130.8,347.0 125.5,348.7" fill="#f4faf1"/><polygon points="114.6,352.4 120.0,350.5 117.1,347.2 111.6,349.1" fill="#f5fbf2"/><polygon points="100.6,352.9 106.2,351.0 103.3,347.6 97.8,349.5" fill="#f5fbf3"/><polygon points="137.0,353.4 142.3,351.6 139.2,348.5 133.9,350.2" fill="#f4faf1"/><polygon points="123.0,353.9 128.5,352.0 125.5,348.7 120.0,350.5" fill="#f5faf2"/><polygon points="109.1,354.4 114.6,352.4 111.6,349.1 106.2,351.0" fill="#f5fbf2"/><polygon points="131.6,355.3 137.0,353.4 133.9,350.2 128.5,352.0" fill="#f5faf2"/><polygon points="117.5,355.8 123.0,353.9 120.0,350.5 114.6,352.4" fill="#f5fbf2"/><polygon points="103.5,356.3 109.1,354.4 106.2,351.0 100.6,352.9" fill="#f5fbf3"/><polygon points="126.1,357.3 131.6,355.3 128.5,352.0 123.0,353.9" fill="#f5fbf2"/><polygon points="112.0,357.8 117.5,355.8 114.6,352.4 109.1,354.4" fill="#f5fbf3"/><polygon points="120.6,359.3 126.1,357.3 123.0,353.9 117.5,355.8" fill="#f5fbf3"/><polygon points="106.4,359.8 112.0,357.8 109.1,354.4 103.5,356.3" fill="#f5fbf3"/><polygon points="115.0,361.3 120.6,359.3 117.5,355.8 112.0,357.8" fill="#f5fbf3"/><polygon points="109.4,363.4 115.0,361.3 112.0,357.8 106.4,359.8" fill="#f5fbf3"/></g>
<line x1="53.23" y1="250.62" x2="153.01" y2="224.50" stroke="#000" stroke-width="1.4"/>
<line x1="153.01" y1="224.50" x2="217.76" y2="272.73" stroke="#000" stroke-width="1.4"/>
<line x1="217.76" y1="272.73" x2="107.56" y2="307.95" stroke="#000" stroke-width="1.4"/>
<line x1="107.56" y1="307.95" x2="53.23" y2="250.62" stroke="#000" stroke-width="1.4"/>
<line x1="53.23" y1="250.62" x2="61.57" y2="343.26" stroke="#000" stroke-width="1.4"/>
<line x1="107.56" y1="307.95" x2="110.81" y2="407.64" stroke="#000" stroke-width="1.4"/>
<line x1="217.76" y1="272.73" x2="208.94" y2="368.29" stroke="#000" stroke-width="1.4"/>
<line x1="61.57" y1="343.26" x2="110.81" y2="407.64" stroke="#000" stroke-width="1.4"/>
<line x1="110.81" y1="407.64" x2="208.94" y2="368.29" stroke="#000" stroke-width="1.4"/>
<line x1="57.57" y1="343.26" x2="61.27" y2="343.26" stroke="#000" stroke-width="1.1"/>
<text x="52.570381612258814" y="346.86398470522937" font-size="10.5" text-anchor="end" fill="#111">−40</text>
<line x1="56.62" y1="332.73" x2="60.32" y2="332.73" stroke="#000" stroke-width="1.1"/>
<text x="51.62158926441124" y="336.3251412365165" font-size="10.5" text-anchor="end" fill="#111">−30</text>
<line x1="55.65" y1="321.91" x2="59.35" y2="321.91" stroke="#000" stroke-width="1.1"/>
<text x="50.648108814409156" y="325.51207122630996" font-size="10.5" text-anchor="end" fill="#111">−20</text>
<line x1="54.65" y1="310.81" x2="58.35" y2="310.81" stroke="#000" stroke-width="1.1"/>
<text x="49.64896396320311" y="314.41393029661253" font-size="10.5" text-anchor="end" fill="#111">−10</text>
<line x1="53.62" y1="299.42" x2="57.32" y2="299.42" stroke="#000" stroke-width="1.1"/>
<text x="48.62312624669676" y="303.0192946388857" font-size="10.5" text-anchor="end" fill="#111">0</text>
<line x1="52.57" y1="287.72" x2="56.27" y2="287.72" stroke="#000" stroke-width="1.1"/>
<text x="47.56951150451126" y="291.3161217903574" font-size="10.5" text-anchor="end" fill="#111">10</text>
<line x1="51.49" y1="275.69" x2="55.19" y2="275.69" stroke="#000" stroke-width="1.1"/>
<text x="46.48697605796277" y="279.29170818037267" font-size="10.5" text-anchor="end" fill="#111">20</text>
<line x1="50.37" y1="263.33" x2="54.07" y2="263.33" stroke="#000" stroke-width="1.1"/>
<text x="45.374312568927756" y="266.9326431321629" font-size="10.5" text-anchor="end" fill="#111">30</text>
<line x1="49.23" y1="250.62" x2="52.93" y2="250.62" stroke="#000" stroke-width="1.1"/>
<text x="44.23024554807339" y="254.2247589698869" font-size="10.5" text-anchor="end" fill="#111">40</text>
<text transform="translate(21.5,299) rotate(-90)" font-size="10.5" text-anchor="middle" fill="#111" textLength="36" lengthAdjust="spacingAndGlyphs">δ -score</text>
<line x1="61.70" y1="343.60" x2="58.20" y2="346.30" stroke="#000" stroke-width="1.1"/>
<text x="53.5" y="358.6" font-size="11" text-anchor="middle" fill="#111">2</text>
<line x1="74.00" y1="359.50" x2="70.50" y2="362.20" stroke="#000" stroke-width="1.1"/>
<text x="64.6" y="372" font-size="11" text-anchor="middle" fill="#111">1</text>
<line x1="85.20" y1="375.50" x2="81.70" y2="378.20" stroke="#000" stroke-width="1.1"/>
<text x="72.2" y="388.7" font-size="11" text-anchor="middle" fill="#111">0.5</text>
<line x1="98.50" y1="391.50" x2="95.00" y2="394.20" stroke="#000" stroke-width="1.1"/>
<text x="83.4" y="405.4" font-size="11" text-anchor="middle" fill="#111">0.25</text>
<line x1="132.10" y1="399.20" x2="133.10" y2="403.70" stroke="#000" stroke-width="1.1"/>
<text x="137.8" y="416.5" font-size="11" text-anchor="middle" fill="#111">39</text>
<line x1="157.30" y1="389.10" x2="158.30" y2="393.60" stroke="#000" stroke-width="1.1"/>
<text x="160.8" y="407.2" font-size="11" text-anchor="middle" fill="#111">156</text>
<line x1="182.00" y1="379.20" x2="183.00" y2="383.70" stroke="#000" stroke-width="1.1"/>
<text x="186.6" y="397.7" font-size="11" text-anchor="middle" fill="#111">625</text>
<line x1="205.20" y1="370.00" x2="206.20" y2="374.50" stroke="#000" stroke-width="1.1"/>
<text x="211.4" y="387.4" font-size="11" text-anchor="middle" fill="#111">2500</text>
<text transform="translate(156.0,428.6) rotate(-21.5)" font-size="13.4" font-weight="bold" text-anchor="start" fill="#1a1a1a" textLength="77" lengthAdjust="spacingAndGlyphs">Subasumstat (nM)</text>
<text transform="translate(33.0,378.0) rotate(50.3)" font-size="13.4" font-weight="bold" text-anchor="start" fill="#1a1a1a" textLength="56" lengthAdjust="spacingAndGlyphs">Sulfopin (nM)</text>
<defs><filter id="bl1" x="-20%" y="-80%" width="140%" height="260%"><feGaussianBlur stdDeviation="0.8"/></filter><filter id="bl2" x="-20%" y="-80%" width="140%" height="260%"><feGaussianBlur stdDeviation="1.4"/></filter><clipPath id="stripclip"><rect x="253.6" y="298.2" width="209.6" height="105"/></clipPath></defs>
<g filter="url(#bl2)" clip-path="url(#stripclip)"><rect x="253.6" y="298.2" width="209.6" height="14.4" fill="#cfcfcf"/><rect x="253.6" y="366.1" width="209.6" height="14.4" fill="#d8d8d8"/><rect x="254.0" y="298.8" width="22.0" height="10.5" rx="3.0" fill="#7d7d7d"/><rect x="280.8" y="298.8" width="21.5" height="10.5" rx="3.0" fill="#737373"/><rect x="306.2" y="298.8" width="21.5" height="10.5" rx="3.0" fill="#787878"/><rect x="333.5" y="298.8" width="22.0" height="10.5" rx="3.0" fill="#414141"/><rect x="360.2" y="298.8" width="20.5" height="10.5" rx="3.0" fill="#464646"/><rect x="386.0" y="298.8" width="22.0" height="10.5" rx="3.0" fill="#414141"/><rect x="413.5" y="298.8" width="20.0" height="10.5" rx="3.0" fill="#646464"/><rect x="439.1" y="298.8" width="21.0" height="10.5" rx="3.0" fill="#acacac"/></g>
<g filter="url(#bl1)" clip-path="url(#stripclip)"><rect x="255.5" y="304.8" width="19.0" height="4.5" rx="2.0" fill="#505050"/><rect x="282.2" y="304.8" width="18.5" height="4.5" rx="2.0" fill="#484848"/><rect x="307.8" y="304.8" width="18.5" height="4.5" rx="2.0" fill="#4e4e4e"/><rect x="335.0" y="304.8" width="19.0" height="4.5" rx="2.0" fill="#1e1e1e"/><rect x="361.8" y="304.8" width="17.5" height="4.5" rx="2.0" fill="#262626"/><rect x="387.5" y="304.8" width="19.0" height="4.5" rx="2.0" fill="#202020"/><rect x="415.0" y="304.8" width="17.0" height="4.5" rx="2.0" fill="#3c3c3c"/><rect x="440.6" y="304.8" width="18.0" height="4.5" rx="2.0" fill="#8c8c8c"/><rect x="255.5" y="328.9" width="21.0" height="4.2" rx="2.1" fill="#1e1e1e"/><rect x="282.2" y="329.6" width="20.5" height="3.3" rx="1.6" fill="#3c3c3c"/><rect x="307.8" y="329.1" width="20.5" height="3.7" rx="1.9" fill="#282828"/><rect x="335.0" y="328.3" width="21.0" height="4.6" rx="2.3" fill="#191919"/><rect x="361.8" y="328.5" width="19.5" height="4.2" rx="2.1" fill="#1e1e1e"/><rect x="387.5" y="328.3" width="21.0" height="4.2" rx="2.1" fill="#1e1e1e"/><rect x="415.0" y="328.6" width="19.0" height="3.5" rx="1.8" fill="#2d2d2d"/><rect x="440.6" y="327.8" width="20.0" height="4.0" rx="2.0" fill="#282828" transform="rotate(-3 450.6 329.8)"/><rect x="253.8" y="348.3" width="22.5" height="5.4" rx="2.7" fill="#121212"/><path d="M280.5,349.2 Q286.5,349.2 291.5,354.0 Q296.5,349.2 302.5,349.2 L302.5,353.2 Q296.5,353.2 291.5,357.6 Q286.5,353.2 280.5,353.2 Z" fill="#161616"/><rect x="306.0" y="348.3" width="22.0" height="5.4" rx="2.7" fill="#161616"/><rect x="333.2" y="348.3" width="22.5" height="5.4" rx="2.7" fill="#141414"/><rect x="360.0" y="348.3" width="21.0" height="5.4" rx="2.7" fill="#141414"/><rect x="385.8" y="348.3" width="22.5" height="5.4" rx="2.7" fill="#141414"/><rect x="413.2" y="348.8" width="20.5" height="4.4" rx="2.2" fill="#1c1c1c"/><rect x="438.9" y="348.3" width="21.5" height="5.4" rx="2.7" fill="#141414"/><rect x="254.5" y="370.6" width="21.0" height="5.5" rx="2.5" fill="#878787"/><rect x="281.2" y="370.6" width="20.5" height="5.5" rx="2.5" fill="#787878"/><rect x="306.8" y="370.6" width="20.5" height="5.5" rx="2.5" fill="#707070"/><rect x="334.0" y="369.9" width="21.0" height="7.0" rx="2.5" fill="#373737"/><rect x="360.8" y="369.6" width="19.5" height="7.5" rx="2.5" fill="#323232"/><rect x="386.5" y="369.6" width="21.0" height="7.5" rx="2.5" fill="#323232"/><rect x="414.0" y="370.4" width="19.0" height="6.0" rx="2.5" fill="#3c3c3c"/><rect x="439.6" y="370.4" width="20.0" height="6.0" rx="2.5" fill="#969696"/><ellipse cx="259.5" cy="371.8" rx="3.2" ry="2.0" fill="#555"/><ellipse cx="268.5" cy="371.3" rx="3.6" ry="2.0" fill="#4a4a4a"/><ellipse cx="420" cy="373.2" rx="4" ry="3" fill="#222"/><ellipse cx="428.5" cy="373.6" rx="3.5" ry="2.8" fill="#2a2a2a"/><rect x="253.8" y="394.2" width="22.5" height="5.2" rx="2.6" fill="#191919"/><rect x="280.5" y="394.2" width="22.0" height="5.2" rx="2.6" fill="#1e1e1e"/><rect x="306.0" y="394.2" width="22.0" height="5.2" rx="2.6" fill="#1e1e1e"/><rect x="333.2" y="394.2" width="22.5" height="5.2" rx="2.6" fill="#1e1e1e"/><rect x="360.0" y="394.2" width="21.0" height="5.2" rx="2.6" fill="#191919"/><rect x="385.8" y="394.2" width="22.5" height="5.2" rx="2.6" fill="#191919"/><rect x="413.2" y="394.2" width="20.5" height="5.2" rx="2.6" fill="#1e1e1e"/><rect x="438.9" y="394.2" width="21.5" height="5.2" rx="2.6" fill="#1e1e1e" transform="rotate(-5 449.6 396.8)"/></g>
<rect x="253.6" y="298.2" width="209.6" height="14.4" fill="none" stroke="#1a1a1a" stroke-width="1.2"/>
<rect x="253.6" y="321.2" width="209.6" height="14.4" fill="none" stroke="#1a1a1a" stroke-width="1.2"/>
<rect x="253.6" y="343.6" width="209.6" height="14.4" fill="none" stroke="#1a1a1a" stroke-width="1.2"/>
<rect x="253.6" y="366.1" width="209.6" height="14.4" fill="none" stroke="#1a1a1a" stroke-width="1.2"/>
<rect x="253.6" y="388.5" width="209.6" height="14.4" fill="none" stroke="#1a1a1a" stroke-width="1.2"/>
</svg></body></html>
